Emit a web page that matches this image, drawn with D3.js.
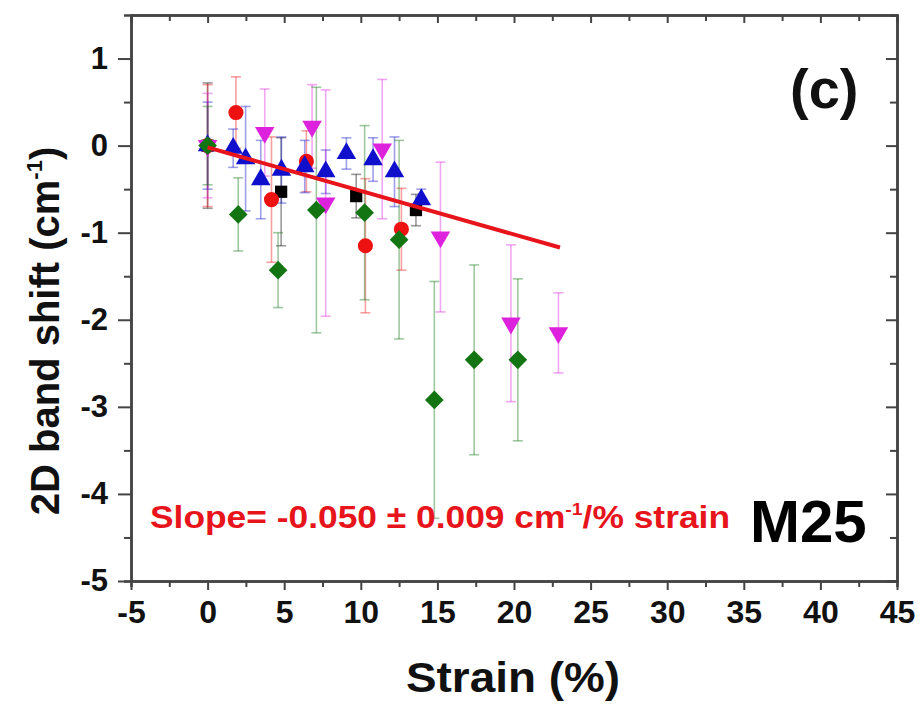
<!DOCTYPE html>
<html>
<head>
<meta charset="utf-8">
<script src="https://cdn.jsdelivr.net/npm/d3@7"></script>
<style>
  body { margin: 0; background: #fff; }
  text { font-family: "Liberation Sans", Arial, sans-serif; font-weight: bold; }
</style>
</head>
<body>
<svg id="chart" width="921" height="704"></svg>
<script>
// data: strain (%), 2D band shift (cm-1), error bar half-length
const strainBlack = [0, 4.8, 9.7, 13.6];
const shiftBlack  = [0, -0.53, -0.58, -0.74];
const errBlack    = [0.72, 0.62, 0.25, 0.18];

const strainRed = [0, 1.85, 4.17, 6.45, 10.3, 12.65];
const shiftRed  = [0, 0.38, -0.62, -0.18, -1.15, -0.96];
const errRed    = [0.7, 0.41, 0.72, 0.35, 0.77, 0.47];

const strainBlue = [0, 1.67, 2.48, 3.47, 4.82, 6.34, 7.71, 9.06, 10.8, 12.2, 13.95];
const shiftBlue  = [0, -0.03, -0.15, -0.39, -0.28, -0.24, -0.3, -0.09, -0.16, -0.3, -0.62];
const errBlue    = [0.5, 0.22, 0.6, 0.45, 0.38, 0.3, 0.25, 0.18, 0.25, 0.4, 0.12];

const strainMagenta = [0, 3.73, 6.82, 7.71, 11.4, 15.2, 19.8, 22.9];
const shiftMagenta  = [0, 0.15, 0.22, -0.66, -0.04, -1.05, -2.04, -2.15];
const errMagenta    = [0.6, 0.5, 0.48, 1.3, 0.8, 0.86, 0.9, 0.46];

const strainGreen = [0, 2.0, 4.6, 7.1, 10.25, 12.5, 14.8, 17.4, 20.25];
const shiftGreen  = [0, -0.79, -1.43, -0.74, -0.77, -1.08, -2.92, -2.46, -2.46];
const errGreen    = [0.45, 0.42, 0.43, 1.41, 1.0, 1.14, 1.36, 1.09, 0.93];

// linear fit
const fitSlope = -0.050;
const fitIntercept = -0.02;
const fitRange = [0, 23];

const xTicks = [-5, 0, 5, 10, 15, 20, 25, 30, 35, 40, 45];
const yTicks = [1, 0, -1, -2, -3, -4, -5];

(function () {
    const svg = d3.select("#chart");
    const margin = { top: 15, right: 24, bottom: 123, left: 131 };
    const width = 921 - margin.left - margin.right;
    const height = 704 - margin.top - margin.bottom;

    const x = d3.scaleLinear().domain([-5, 45]).range([0, width]);
    const y = d3.scaleLinear().domain([-5, 1.5]).range([height, 0]);

    const g = svg.append("g")
        .attr("transform", `translate(${margin.left},${margin.top})`);

    const series = [
        { xs: strainBlack, ys: shiftBlack, es: errBlack, color: "#000000", shape: "square" },
        { xs: strainRed, ys: shiftRed, es: errRed, color: "#ee1111", shape: "circle" },
        { xs: strainBlue, ys: shiftBlue, es: errBlue, color: "#1010cc", shape: "up" },
        { xs: strainMagenta, ys: shiftMagenta, es: errMagenta, color: "#dd22dd", shape: "down" },
        { xs: strainGreen, ys: shiftGreen, es: errGreen, color: "#127512", shape: "diamond" }
    ];

    const symbolFor = {
        square: d3.symbol().type(d3.symbolSquare).size(150),
        circle: d3.symbol().type(d3.symbolCircle).size(180),
        up: d3.symbol().type(d3.symbolTriangle).size(165),
        down: d3.symbol().type(d3.symbolTriangle).size(165),
        diamond: d3.symbol().type(d3.symbolSquare).size(175)
    };

    // error bars first, faded like the original
    series.forEach(s => {
        const pts = s.xs.map((v, i) => ({ x: v, y: s.ys[i], e: s.es[i] }));
        const eb = g.append("g")
            .attr("stroke", s.color)
            .attr("stroke-opacity", 0.4)
            .attr("stroke-width", 1.6);
        eb.selectAll("line.bar").data(pts).enter().append("line")
            .attr("x1", d => x(d.x)).attr("x2", d => x(d.x))
            .attr("y1", d => y(d.y + d.e)).attr("y2", d => y(d.y - d.e));
        eb.selectAll("line.capTop").data(pts).enter().append("line")
            .attr("x1", d => x(d.x) - 5).attr("x2", d => x(d.x) + 5)
            .attr("y1", d => y(d.y + d.e)).attr("y2", d => y(d.y + d.e));
        eb.selectAll("line.capBot").data(pts).enter().append("line")
            .attr("x1", d => x(d.x) - 5).attr("x2", d => x(d.x) + 5)
            .attr("y1", d => y(d.y - d.e)).attr("y2", d => y(d.y - d.e));
    });

    // markers
    series.forEach(s => {
        const pts = s.xs.map((v, i) => ({ x: v, y: s.ys[i] }));
        g.append("g").selectAll("path").data(pts).enter().append("path")
            .attr("d", symbolFor[s.shape])
            .attr("transform", d => {
                let t = `translate(${x(d.x)},${y(d.y)})`;
                if (s.shape === "down") t += " rotate(180)";
                if (s.shape === "diamond") t += " rotate(45)";
                return t;
            })
            .attr("fill", s.color);
    });

    // fit line
    g.append("line")
        .attr("x1", x(fitRange[0])).attr("y1", y(fitIntercept + fitSlope * fitRange[0]))
        .attr("x2", x(fitRange[1])).attr("y2", y(fitIntercept + fitSlope * fitRange[1]))
        .attr("stroke", "#e8141c")
        .attr("stroke-width", 4);

    // axes: bottom/left ticks outward, top/right ticks inward
    const xMinor = d3.range(-2.5, 45, 5);
    const yMinor = d3.range(-4.5, 1.5, 1);
    const fmt = d => String(d);

    const axisStyle = sel => {
        sel.select(".domain").attr("stroke", "#444").attr("stroke-width", 2.5);
        sel.selectAll(".tick line").attr("stroke", "#444").attr("stroke-width", 2);
    };

    const xb = g.append("g").attr("transform", `translate(0,${height})`)
        .call(d3.axisBottom(x).tickValues(xTicks).tickFormat(fmt).tickSize(9).tickPadding(10).tickSizeOuter(0));
    axisStyle(xb);
    xb.selectAll(".tick text").attr("font-size", 32).attr("fill", "#111")
        .attr("font-family", "'Liberation Sans', Arial, sans-serif").attr("font-weight", "bold");
    g.append("g").attr("transform", `translate(0,${height})`)
        .call(d3.axisBottom(x).tickValues(xMinor).tickSize(6).tickFormat(""))
        .call(axisStyle);

    const yl = g.append("g")
        .call(d3.axisLeft(y).tickValues(yTicks).tickFormat(fmt).tickSize(13).tickPadding(10).tickSizeOuter(0));
    axisStyle(yl);
    yl.selectAll(".tick text").attr("font-size", 31).attr("fill", "#111")
        .attr("font-family", "'Liberation Sans', Arial, sans-serif").attr("font-weight", "bold");
    g.append("g")
        .call(d3.axisLeft(y).tickValues(yMinor).tickSize(7).tickFormat(""))
        .call(axisStyle);

    g.append("g")
        .call(d3.axisTop(x).tickValues(xTicks).tickSize(-8).tickFormat("").tickSizeOuter(0))
        .call(axisStyle);
    g.append("g")
        .call(d3.axisTop(x).tickValues(xMinor).tickSize(-6).tickFormat(""))
        .call(axisStyle);

    g.append("g").attr("transform", `translate(${width},0)`)
        .call(d3.axisRight(y).tickValues(yTicks).tickSize(-11).tickFormat("").tickSizeOuter(0))
        .call(axisStyle);
    g.append("g").attr("transform", `translate(${width},0)`)
        .call(d3.axisRight(y).tickValues(yMinor).tickSize(-7).tickFormat(""))
        .call(axisStyle);

    // axis titles
    svg.append("text")
        .attr("x", 513).attr("y", 692)
        .attr("text-anchor", "middle")
        .attr("font-size", 42)
        .attr("fill", "#111")
        .attr("textLength", 214).attr("lengthAdjust", "spacingAndGlyphs")
        .text("Strain (%)");

    const yt = svg.append("text")
        .attr("transform", "translate(59,331) rotate(-90)")
        .attr("text-anchor", "middle")
        .attr("font-size", 40)
        .attr("fill", "#111");
    yt.append("tspan").text("2D band shift (cm");
    yt.append("tspan").attr("font-size", 22).attr("dy", -17).text("-1");
    yt.append("tspan").attr("dy", 17).text(")");

    // annotations
    svg.append("text")
        .attr("x", 790).attr("y", 108)
        .attr("font-size", 56)
        .attr("fill", "#111")
        .text("(c)");

    const st = svg.append("text")
        .attr("x", 150).attr("y", 528)
        .attr("font-size", 31)
        .attr("fill", "#e8141c")
        .attr("textLength", 580).attr("lengthAdjust", "spacingAndGlyphs");
    st.append("tspan").text("Slope= -0.050 \u00b1 0.009 cm");
    st.append("tspan").attr("font-size", 17).attr("dy", -13).text("-1");
    st.append("tspan").attr("dy", 13).text("/% strain");

    svg.append("text")
        .attr("x", 750).attr("y", 542)
        .attr("font-size", 60)
        .attr("fill", "#000")
        .text("M25");
})();
</script>
</body>
</html>
